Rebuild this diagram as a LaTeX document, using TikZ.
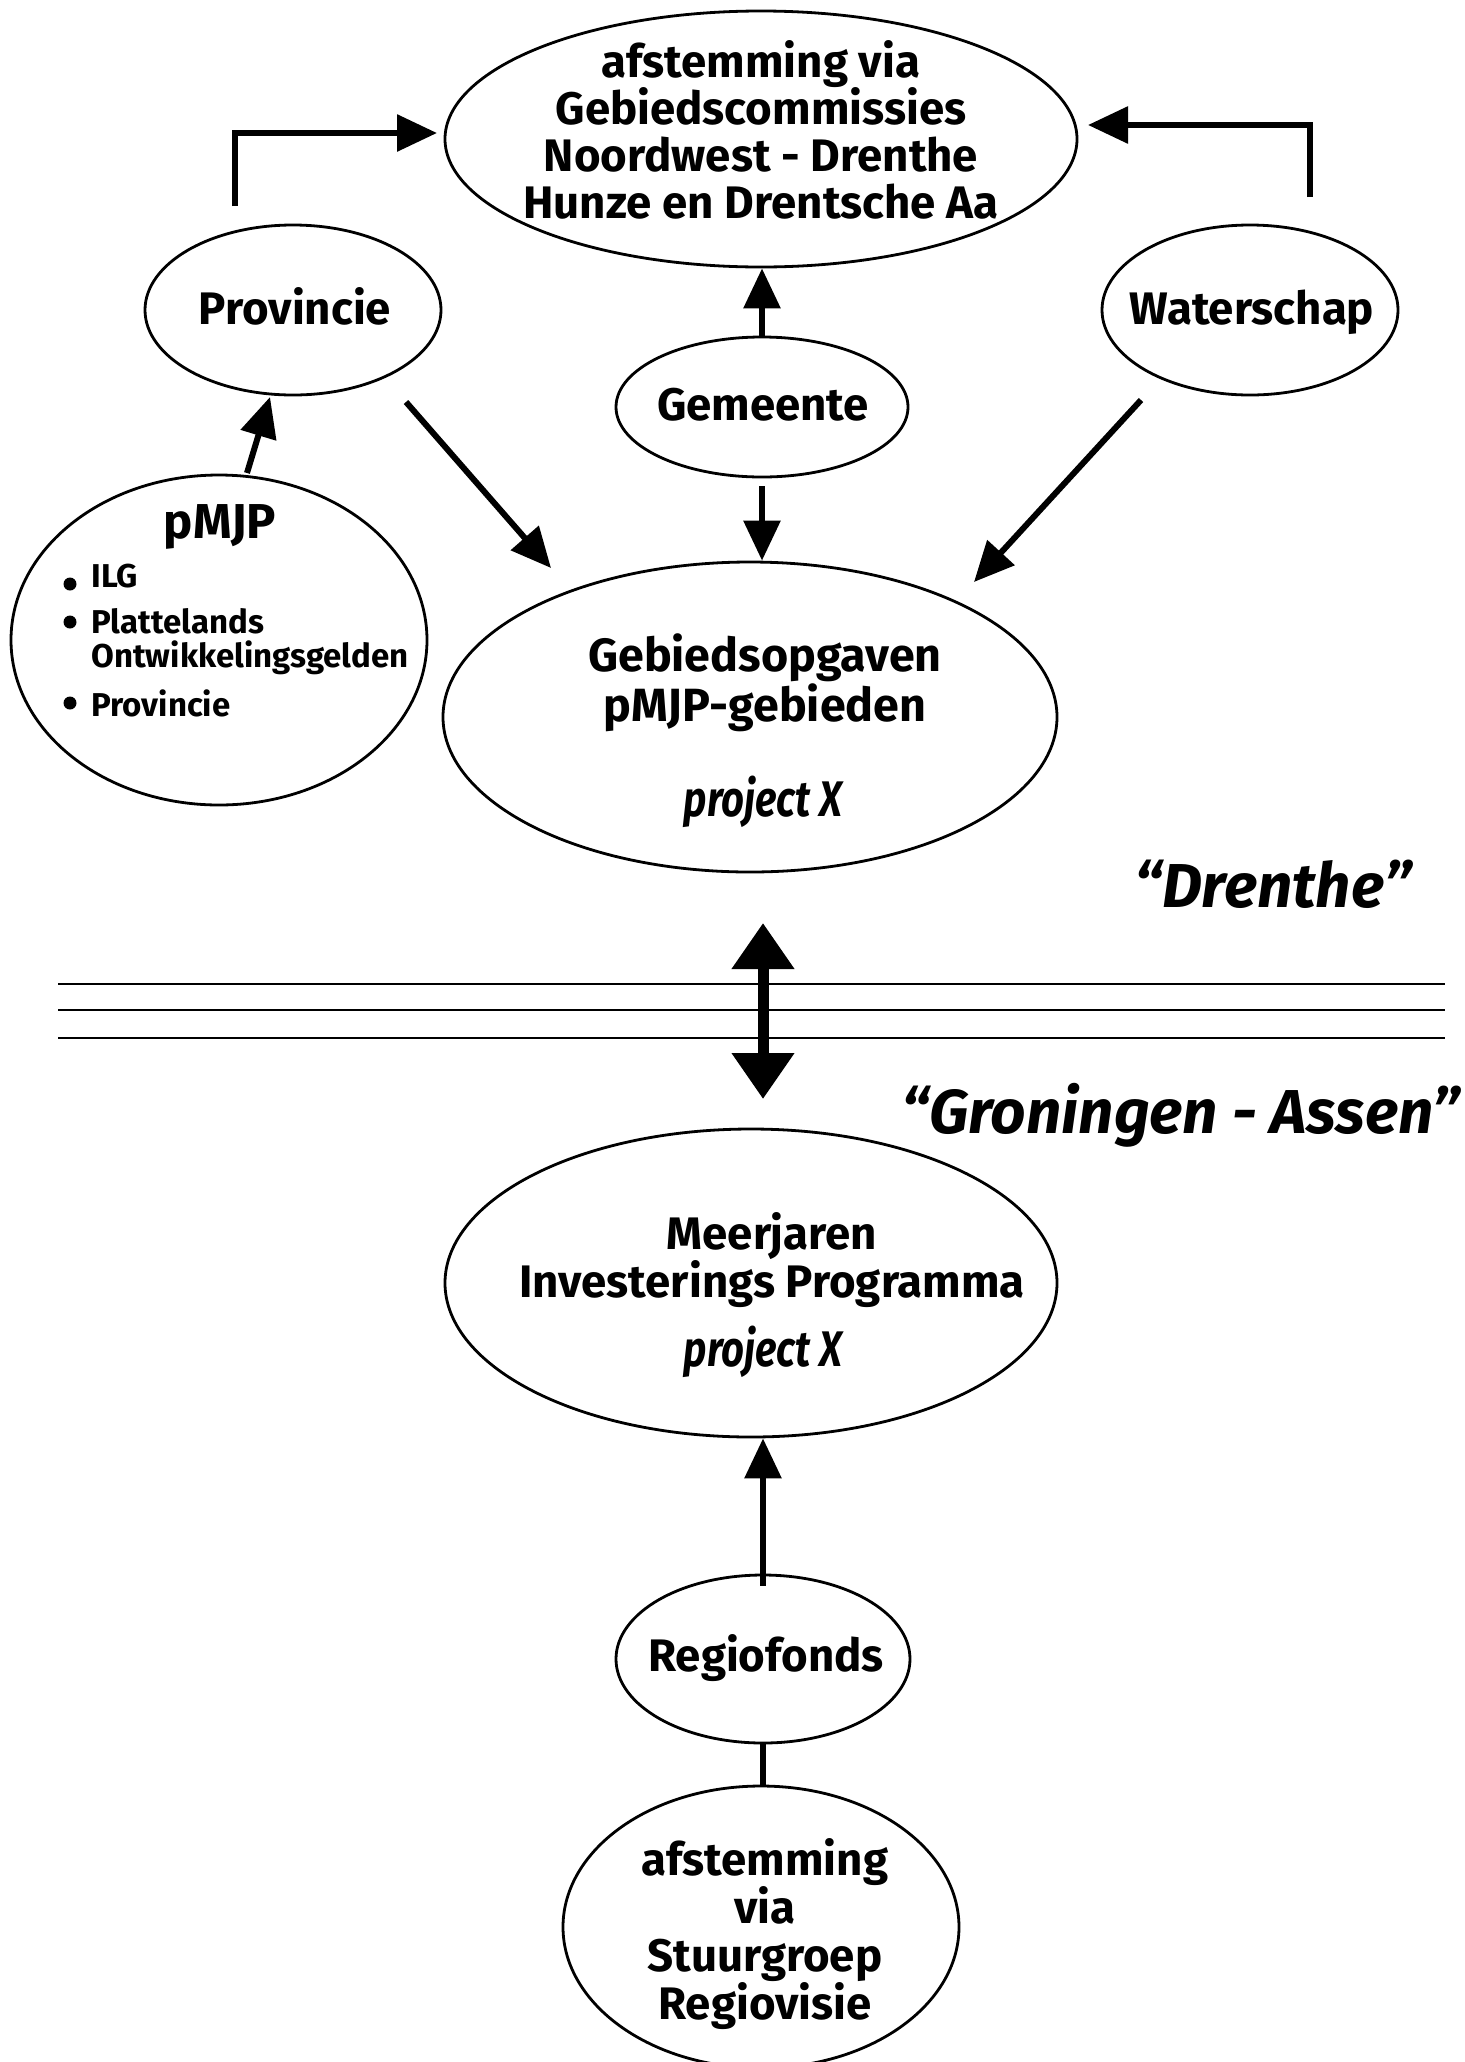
\documentclass[tikz,border=0pt]{standalone}
\usepackage{fontspec}
\setmainfont{Fira Sans}
\usetikzlibrary{shapes.geometric,arrows.meta}
\begin{document}
\begin{tikzpicture}[x=0.5pt,y=-0.5pt,
  ell/.style={draw,ellipse,line width=1.4pt,inner sep=0pt},
  txt/.style={font=\bfseries\fontsize{22.8}{23.6}\selectfont,align=center,inner sep=0pt},
  small/.style={font=\bfseries\fontsize{16.5}{17}\selectfont,inner sep=0pt,anchor=west},
  ital/.style={font=\bfseries\itshape\fontsize{25}{28}\selectfont,inner sep=0pt,xscale=0.8,transform shape},
  big/.style={font=\bfseries\itshape\fontsize{31}{34}\selectfont,inner sep=0pt},
  arr/.style={line width=3pt,-{Triangle[length=20pt,width=18pt]}},
  dbl/.style={line width=5.5pt,{Triangle[length=23pt,width=30pt]}-{Triangle[length=23pt,width=30pt]}},
  sep/.style={line width=1.2pt},
  dot/.style={circle,fill,inner sep=0pt,minimum size=6.5pt}]
\useasboundingbox (0,0) rectangle (1464,2062);

% ellipses
\node[ell,minimum width=316pt,minimum height=128pt] (top) at (761,139) {};
\node[ell,minimum width=148pt,minimum height=85pt] (prov) at (293,310) {};
\node[ell,minimum width=148pt,minimum height=85pt] (wat) at (1250,310) {};
\node[ell,minimum width=146pt,minimum height=70pt] (gem) at (762,407) {};
\node[ell,minimum width=208pt,minimum height=165pt] (pmjp) at (219,640) {};
\node[ell,minimum width=307pt,minimum height=155pt] (geb) at (750,717) {};
\node[ell,minimum width=306pt,minimum height=154pt] (mij) at (751,1283) {};
\node[ell,minimum width=147pt,minimum height=84pt] (reg) at (763,1659) {};
\node[ell,minimum width=198pt,minimum height=141pt] (bot) at (761,1927) {};

% texts
\node[txt] (ttop) at (761,130) {afstemming via\\Gebiedscommissies\\Noordwest - Drenthe\\Hunze en Drentsche Aa};
\node[txt] (tprov) at (295,306) {Provincie};
\node[txt] (twat) at (1252,312) {Waterschap};
\node[txt] (tgem) at (763,405) {Gemeente};
\node[txt,font=\bfseries\fontsize{24.5}{26}\selectfont] (tpm) at (220,527) {pMJP};
\node[dot] (d1) at (70,584) {};
\node[small] (b1) at (91,576) {ILG};
\node[dot] (d2) at (70,622) {};
\node[small,align=left] (b2) at (91,642) {Plattelands\\Ontwikkelingsgelden};
\node[dot] (d3) at (70,703) {};
\node[small] (b3) at (91,703) {Provincie};
\node[txt,font=\bfseries\fontsize{23.3}{25}\selectfont] (tgeb) at (765,683) {Gebiedsopgaven\\pMJP-gebieden};
\node[ital] (pxa) at (763,802) {project X};
\node[big] (dren) at (1273,884) {“Drenthe”};
\node[big] (gron) at (1181,1115) {“Groningen - Assen”};
\node[txt] (tmij) at (772,1260) {Meerjaren\\Investerings Programma};
\node[ital] (pxb) at (763,1352) {project X};
\node[txt] (treg) at (766,1658) {Regiofonds};
\node[txt,font=\bfseries\fontsize{22.8}{24}\selectfont] (tbot) at (765,1934) {afstemming\\via\\Stuurgroep\\Regiovisie};

% separator lines
\coordinate (l1a) at (58,984);  \coordinate (l1b) at (1445,984);
\coordinate (l2a) at (58,1010); \coordinate (l2b) at (1445,1010);
\coordinate (l3a) at (58,1038); \coordinate (l3b) at (1445,1038);
\draw[sep] (l1a) -- (l1b);
\draw[sep] (l2a) -- (l2b);
\draw[sep] (l3a) -- (l3b);

% connectors
\coordinate (ps) at (235,206); \coordinate (pt) at (437,133);
\draw[arr] (ps) |- (pt);
\coordinate (ws) at (1310,197); \coordinate (wt) at (1088,125);
\draw[arr] (ws) |- (wt);
\draw[arr] (gem.north) -- (top.south -| gem.north);
\draw[arr,shorten <=4pt] (gem.south) -- (gem.south |- geb.north);
\coordinate (ms) at (247,473); \coordinate (mt) at (270,397);
\draw[arr] (ms) -- (mt);
\coordinate (pds) at (406,402); \coordinate (pdt) at (551,568);
\draw[arr] (pds) -- (pdt);
\coordinate (wds) at (1141,400); \coordinate (wdt) at (974,582);
\draw[arr] (wds) -- (wdt);
\coordinate (da) at (763,923); \coordinate (db) at (763,1099);
\draw[dbl] (da) -- (db);
\draw[arr,shorten <=-6pt] (reg.north) -- (mij.south -| reg.north);
\draw[line width=3pt] (reg.south) -- (bot.north -| reg.south);
\end{tikzpicture}
\end{document}
